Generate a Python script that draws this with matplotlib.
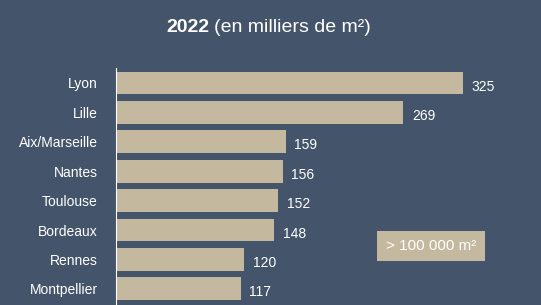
import matplotlib.pyplot as plt
from matplotlib import font_manager

villes = ["Lyon", "Lille", "Aix/Marseille", "Nantes", "Toulouse", "Bordeaux", "Rennes", "Montpellier"]
valeurs = [325, 269, 159, 156, 152, 148, 120, 117]

fond = "#44546a"
beige = "#c4b89e"

noms = {f.name for f in font_manager.fontManager.ttflist}
police = "Liberation Sans Narrow" if "Liberation Sans Narrow" in noms else "Liberation Sans"
plt.rcParams['font.family'] = [police, 'DejaVu Sans']

fig = plt.figure(figsize=(5.41, 3.05), dpi=100, facecolor=fond)
ax = fig.add_axes([116 / 541, 0, 1 - 116 / 541, 1 - 68 / 305])
ax.set_facecolor(fond)

y = list(range(len(villes)))
ax.barh(y, valeurs, height=0.78, color=beige)
ax.set_xlim(0, 398)
ax.set_ylim(7.55, -0.51)

for i, v in enumerate(valeurs):
    ax.text(v + 8, i + 0.12, str(v), color="white", fontsize=10, va="center", ha="left")

ax.set_yticks(y)
ax.set_yticklabels(villes, color="white", fontsize=10)
ax.tick_params(axis="y", length=0, pad=13)
ax.set_xticks([])
for s in ["top", "right", "bottom"]:
    ax.spines[s].set_visible(False)
ax.spines["left"].set_color("white")
ax.spines["left"].set_linewidth(0.8)

# titre
fig.text(209 / 541, 1 - 27 / 305, "2022", color="white", fontsize=14, fontweight="bold",
         ha="right", va="center")
fig.text(214 / 541, 1 - 27 / 305, "(en milliers de m²)", color="white", fontsize=14,
         ha="left", va="center")

# encadré
fig.text(431 / 541, 1 - 246 / 305, "> 100 000 m²", color="white", fontsize=11,
         ha="center", va="center",
         bbox=dict(boxstyle="square,pad=0.55", facecolor=beige, edgecolor="none"))

fig.savefig("out.png", dpi=100, facecolor=fond)
